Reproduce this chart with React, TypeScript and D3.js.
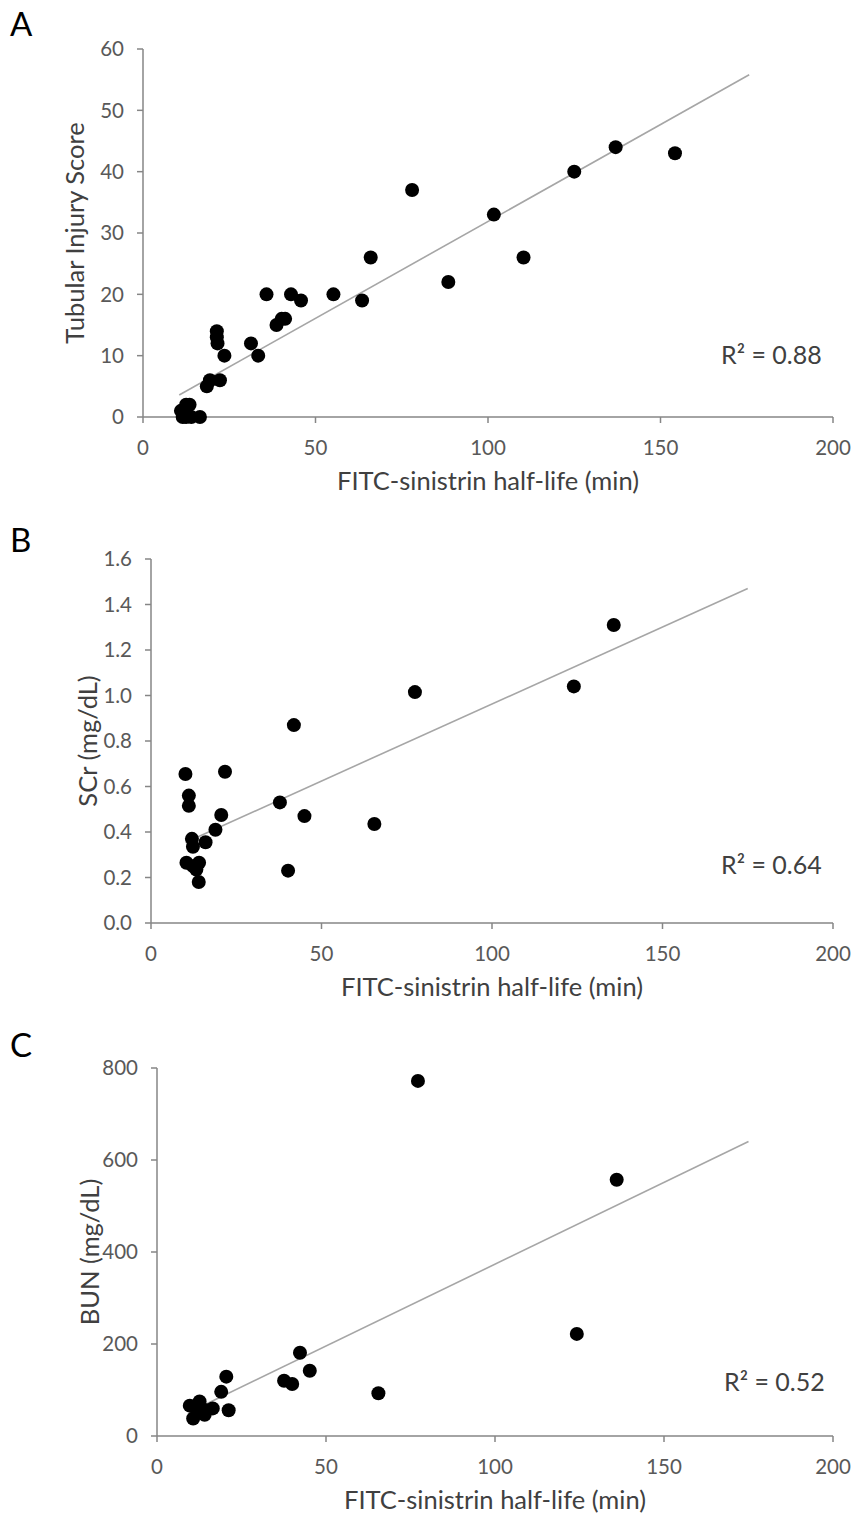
import React from 'react';
import * as d3 from 'd3';

// ---------- data ----------
const xTicks = [0, 50, 100, 150, 200];

// Panel A: Tubular Injury Score
const aYTicks = [0, 10, 20, 30, 40, 50, 60];
const aX = [11, 11.5, 12.5, 13.5, 12.5, 14, 16.5, 12, 18.5, 19.4, 22.3, 21.4, 21.4, 21.6, 23.6, 31.3, 33.4, 35.8, 38.7, 40.2, 41.2, 42.9, 45.8, 55.2, 63.5, 66, 78, 88.5, 101.7, 110.3, 125, 137, 154.2];
const aY = [1, 0, 2, 2, 0, 0, 0, 1, 5, 6, 6, 14, 13, 12, 10, 12, 10, 20, 15, 16, 16, 20, 19, 20, 19, 26, 37, 22, 33, 26, 40, 44, 43];
const aTrendX = [10.5, 175.7];
const aTrendCoef = [0.28, 0.316]; // intercept, slope
const aR2 = 'R² = 0.88';

// Panel B: SCr
const bYTicks = [0, 0.2, 0.4, 0.6, 0.8, 1.0, 1.2, 1.4, 1.6];
const bX = [10.1, 21.7, 11.1, 11.1, 20.6, 37.8, 45, 18.9, 12, 12.3, 16, 10.4, 12.3, 14.1, 13.3, 40.2, 14, 41.9, 65.5, 77.4, 124, 135.7];
const bY = [0.655, 0.665, 0.56, 0.515, 0.475, 0.53, 0.47, 0.41, 0.37, 0.335, 0.355, 0.265, 0.25, 0.265, 0.235, 0.23, 0.18, 0.87, 0.435, 1.015, 1.04, 1.31];
const bTrendX = [10.1, 175];
const bTrendCoef = [0.2856, 0.00677];
const bR2 = 'R² = 0.64';

// Panel C: BUN
const cYTicks = [0, 200, 400, 600, 800];
const cX = [9.7, 12.6, 10.7, 14.1, 16.5, 12.6, 11.7, 14.6, 19, 20.5, 21.2, 37.6, 40, 42.3, 45.2, 65.5, 77.2, 124.2, 136];
const cY = [66, 75, 38, 46, 60, 53, 64, 56, 96, 129, 56, 120, 113, 181, 142, 93, 772, 222, 557];
const cTrendX = [9.7, 175];
const cTrendCoef = [17.8, 3.557];
const cR2 = 'R² = 0.52';

const xTitle = 'FITC-sinistrin half-life (min)';

// ---------- layout ----------
const FONT = "Lato, 'Open Sans', sans-serif";
const AXIS = '#868686';
const LABEL = '#595959';
const TITLE = '#404040';

type PanelProps = {
  letter: string;
  letterY: number;
  left: number;
  right: number;
  top: number;
  bottom: number;
  yMax: number;
  yTicks: number[];
  yFmt: (v: number) => string;
  xs: number[];
  ys: number[];
  trendX: number[];
  trendCoef: number[];
  r2: string;
  r2X: number;
  r2Y: number;
  yTitle: string;
  yTitleX: number;
};

function Panel(p: PanelProps) {
  const x = d3.scaleLinear().domain([0, 200]).range([p.left, p.right]);
  const y = d3.scaleLinear().domain([0, p.yMax]).range([p.bottom, p.top]);
  const trend = p.trendX.map((v) => [v, p.trendCoef[0] + p.trendCoef[1] * v] as [number, number]);
  const line = d3.line<[number, number]>().x((d) => x(d[0])).y((d) => y(d[1]));
  const midX = (p.left + p.right) / 2;
  const midY = (p.top + p.bottom) / 2;
  return (
    <g fontFamily={FONT}>
      <text x={10} y={p.letterY} fontSize={33} fill="#000">{p.letter}</text>
      {/* y axis */}
      <line x1={x(0)} x2={x(0)} y1={y(0)} y2={y(p.yMax)} stroke={AXIS} strokeWidth={1.5} />
      {p.yTicks.map((t) => (
        <g key={'y' + t}>
          <line x1={x(0) - 6} x2={x(0)} y1={y(t)} y2={y(t)} stroke={AXIS} strokeWidth={1.5} />
          <text x={x(0) - 19} y={y(t)} dy="0.35em" textAnchor="end" fontSize={20.5} fill={LABEL}>{p.yFmt(t)}</text>
        </g>
      ))}
      {/* x axis */}
      <line x1={x(0)} x2={x(200)} y1={y(0)} y2={y(0)} stroke={AXIS} strokeWidth={1.5} />
      {xTicks.map((t) => (
        <g key={'x' + t}>
          <line x1={x(t)} x2={x(t)} y1={y(0)} y2={y(0) + 6} stroke={AXIS} strokeWidth={1.5} />
          <text x={x(t)} y={y(0) + 31} dy="0.35em" textAnchor="middle" fontSize={20.5} fill={LABEL}>{t}</text>
        </g>
      ))}
      {/* trendline */}
      <path d={line(trend) || ''} fill="none" stroke="#a6a6a6" strokeWidth={1.6} />
      {/* points */}
      {p.xs.map((v, i) => (
        <circle key={i} cx={x(v)} cy={y(p.ys[i])} r={7} fill="#000" />
      ))}
      <text x={p.r2X} y={p.r2Y} dy="0.35em" fontSize={25} fill={TITLE}>{p.r2}</text>
      <text x={midX} y={p.bottom + 64} dy="0.35em" textAnchor="middle" fontSize={25.5} fill={TITLE}>{xTitle}</text>
      <text transform={`translate(${p.yTitleX},${midY}) rotate(-90)`} dy="0.35em" textAnchor="middle" fontSize={25.5} fill={TITLE}>{p.yTitle}</text>
    </g>
  );
}

export default function App() {
  return (
    <svg width={853} height={1518} style={{ position: 'absolute', left: 0, top: 0, background: '#fff' }}>
      <rect width={853} height={1518} fill="#fff" />
      <Panel letter="A" letterY={36} left={143} right={833} top={49} bottom={417} yMax={60} yTicks={aYTicks}
        yFmt={(v) => String(v)} xs={aX} ys={aY} trendX={aTrendX} trendCoef={aTrendCoef}
        r2={aR2} r2X={721} r2Y={355} yTitle="Tubular Injury Score" yTitleX={75} />
      <Panel letter="B" letterY={552} left={151} right={833} top={559} bottom={923} yMax={1.6} yTicks={bYTicks}
        yFmt={(v) => v.toFixed(1)} xs={bX} ys={bY} trendX={bTrendX} trendCoef={bTrendCoef}
        r2={bR2} r2X={721} r2Y={865} yTitle="SCr (mg/dL)" yTitleX={88} />
      <Panel letter="C" letterY={1057} left={157} right={833} top={1068} bottom={1436} yMax={800} yTicks={cYTicks}
        yFmt={(v) => String(v)} xs={cX} ys={cY} trendX={cTrendX} trendCoef={cTrendCoef}
        r2={cR2} r2X={724} r2Y={1382} yTitle="BUN (mg/dL)" yTitleX={90} />
    </svg>
  );
}
